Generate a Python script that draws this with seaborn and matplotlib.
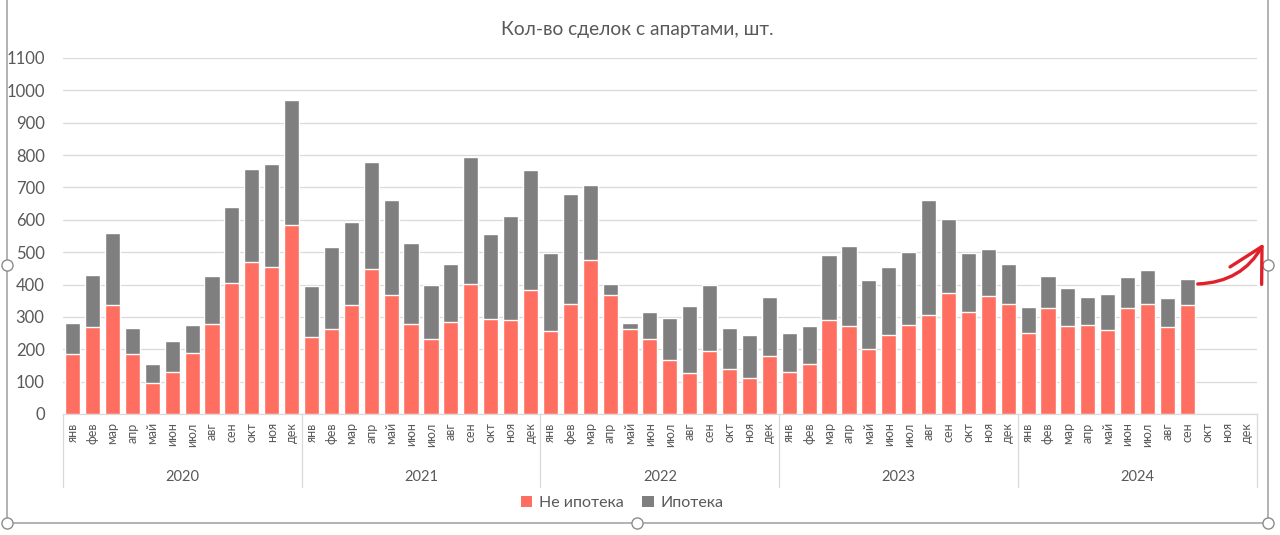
import numpy as np
import pandas as pd
import matplotlib
matplotlib.use("Agg")
import matplotlib.pyplot as plt
import seaborn as sns
from matplotlib.patches import Patch, Rectangle, FancyArrowPatch
from matplotlib.lines import Line2D
from matplotlib.transforms import blended_transform_factory

# ---------------- data ----------------
years = ["2020", "2021", "2022", "2023", "2024"]
months = ["янв", "фев", "мар", "апр", "май", "июн", "июл", "авг", "сен", "окт", "ноя", "дек"]

non_mortgage_2020 = [184, 270, 337, 184, 96, 129, 189, 278, 404, 471, 454, 585]
non_mortgage_2021 = [238, 264, 336, 449, 367, 278, 232, 283, 401, 294, 291, 382]
non_mortgage_2022 = [255, 341, 476, 367, 262, 232, 168, 128, 195, 139, 112, 178]
non_mortgage_2023 = [129, 154, 291, 273, 200, 243, 276, 305, 374, 315, 366, 341]
non_mortgage_2024 = [249, 326, 273, 275, 261, 326, 340, 270, 337, np.nan, np.nan, np.nan]

mortgage_2020 = [98, 159, 221, 83, 58, 98, 86, 148, 237, 287, 320, 384]
mortgage_2021 = [159, 251, 256, 329, 295, 250, 168, 181, 393, 261, 321, 371]
mortgage_2022 = [243, 340, 232, 36, 20, 83, 130, 206, 203, 127, 133, 182]
mortgage_2023 = [121, 118, 200, 245, 214, 210, 225, 357, 229, 184, 144, 123]
mortgage_2024 = [82, 101, 116, 85, 110, 98, 106, 87, 79, np.nan, np.nan, np.nan]

title = "Кол-во сделок с апартами, шт."
series_names = ["Не ипотека", "Ипотека"]
y_ticks = list(range(0, 1101, 100))

# ---------------- build table ----------------
non_all = non_mortgage_2020 + non_mortgage_2021 + non_mortgage_2022 + non_mortgage_2023 + non_mortgage_2024
mort_all = mortgage_2020 + mortgage_2021 + mortgage_2022 + mortgage_2023 + mortgage_2024
slots = [f"{y}-{m}" for y in years for m in months]
df = pd.DataFrame({
    "slot": slots,
    "non": non_all,
    "mort": mort_all,
})
df["total"] = df["non"] + df["mort"]

RED = "#FF6F61"
GRAY = "#7F7F7F"
TXT = "#595959"
GRID = "#D9D9D9"
FONT = ["Lato", "DejaVu Sans"]

sns.set_theme(style="white")
plt.rcParams["font.family"] = FONT

W, H = 1280, 535
fig = plt.figure(figsize=(12.8, 5.35), dpi=100)
ax = fig.add_axes([62.7 / W, 1 - 414 / H, (1257 - 62.7) / W, (414 - 58) / H])

sns.barplot(data=df, x="slot", y="total", order=slots, color=GRAY, width=0.76,
            errorbar=None, saturation=1, ax=ax, zorder=2)
sns.barplot(data=df, x="slot", y="non", order=slots, color=RED, width=0.76,
            errorbar=None, saturation=1, ax=ax, zorder=3)

ax.set_xlim(-0.5, len(slots) - 0.5)
ax.set_ylim(0, 1100)
ax.set_yticks(y_ticks)
ax.set_yticklabels([str(v) for v in y_ticks], fontsize=12, color=TXT)
ax.tick_params(axis="y", length=0, pad=13)
ax.yaxis.grid(True, color=GRID, linewidth=0.9, zorder=0)
ax.set_axisbelow(True)

ax.set_xticks(range(len(slots)))
ax.set_xticklabels(months * len(years), rotation=90, fontsize=9, color=TXT)
ax.tick_params(axis="x", length=0, pad=6)
ax.set_xlabel("")
ax.set_ylabel("")

for s in ["top", "right", "left"]:
    ax.spines[s].set_visible(False)
ax.spines["bottom"].set_color(GRID)
ax.spines["bottom"].set_linewidth(0.9)

# year separators and year labels
tr = blended_transform_factory(ax.transData, ax.transAxes)
for i in range(len(years) + 1):
    xb = i * 12 - 0.5
    ax.plot([xb, xb], [0, -0.205], transform=tr, color=GRID, lw=0.9, clip_on=False)
for i, y in enumerate(years):
    ax.text(i * 12 + 5.5, -0.177, y, transform=tr, ha="center", va="center",
            fontsize=10.5, color=TXT)

fig.suptitle(title, x=637 / W, y=1 - 30 / H, fontsize=13.8, color=TXT,
             va="center", fontfamily=FONT)

handles = [Patch(facecolor=RED, edgecolor="none"), Patch(facecolor=GRAY, edgecolor="none")]
fig.legend(handles, series_names, loc="center", bbox_to_anchor=(622 / W, 1 - 503 / H),
           ncol=2, frameon=False, fontsize=11.5, labelcolor=TXT, handlelength=0.7,
           handleheight=0.7, handletextpad=0.4, columnspacing=1.2)

# chart frame (Excel-like selection)
fig.add_artist(Rectangle((7 / W, 1 - 523 / H), (1268 - 7) / W, 523 / H + 0.05,
                         transform=fig.transFigure, fill=False, edgecolor="#A6A6A6",
                         lw=1.2, zorder=0))
hx = [7, 1268, 7, 637, 1268]
hy = [265, 265, 523, 523, 523]
fig.add_artist(Line2D([v / W for v in hx], [1 - v / H for v in hy], transform=fig.transFigure,
                      linestyle="none", marker="o", markersize=8, markerfacecolor="white",
                      markeredgecolor="#8C8C8C", markeredgewidth=1.0, zorder=5))

# hand-drawn red arrow
fig.add_artist(FancyArrowPatch(
    (1195 / W, 1 - 284 / H), (1265 / W, 1 - 241 / H), transform=fig.transFigure,
    arrowstyle="->,head_length=2.4,head_width=1.3", mutation_scale=10,
    color="#E0202A", lw=2.4, connectionstyle="arc3,rad=0.3", zorder=6))

fig.savefig("out.png", dpi=100)
